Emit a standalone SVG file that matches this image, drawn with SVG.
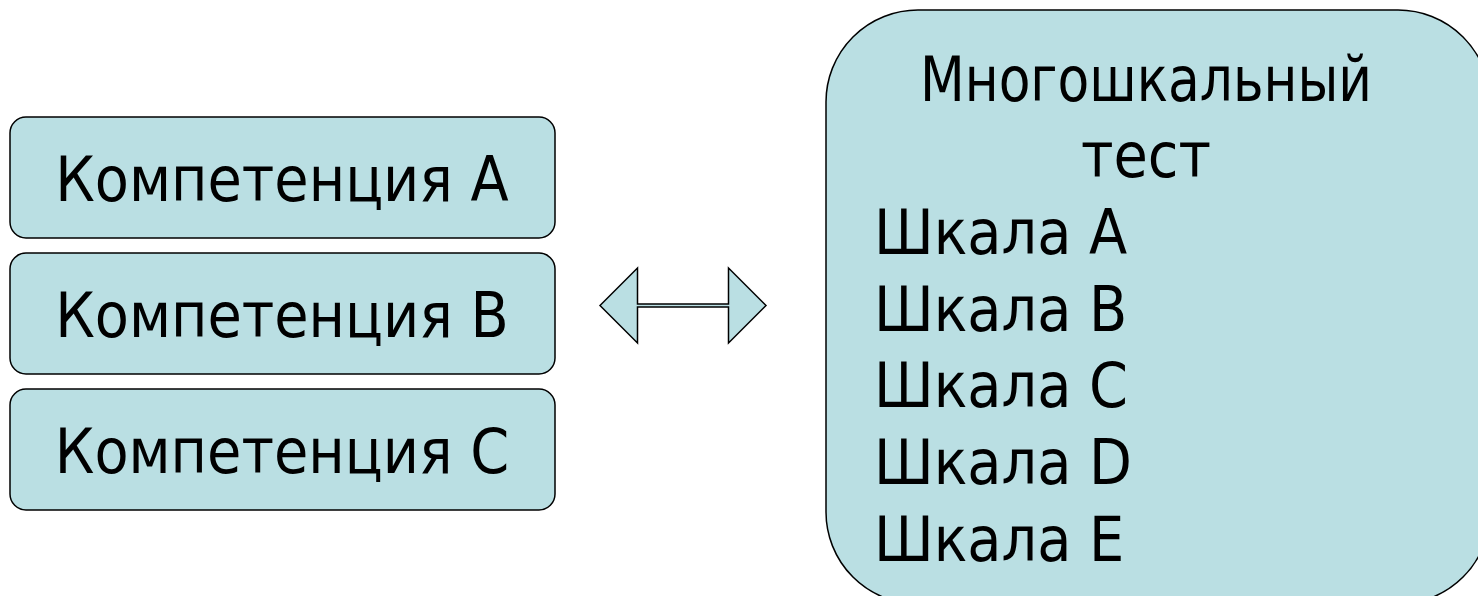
<svg xmlns="http://www.w3.org/2000/svg" width="1478" height="596" viewBox="0 0 1478 596">
  <style>
    .box { fill: #badfe3; stroke: #000; stroke-width: 1.5; }
    .lbl { font-family: "DejaVu Sans Condensed", "DejaVu Sans", sans-serif; font-size: 62px; fill: #000; }
  </style>
  <rect width="1478" height="596" fill="#fff"/>

  <g id="competence-a">
    <rect class="box" x="10" y="117" width="545" height="121" rx="16"/>
    <text class="lbl" x="282" y="201" text-anchor="middle">Компетенция A</text>
  </g>
  <g id="competence-b">
    <rect class="box" x="10" y="253" width="545" height="121" rx="16"/>
    <text class="lbl" x="282" y="337" text-anchor="middle">Компетенция B</text>
  </g>
  <g id="competence-c">
    <rect class="box" x="10" y="389" width="545" height="121" rx="16"/>
    <text class="lbl" x="282" y="473" text-anchor="middle">Компетенция C</text>
  </g>

  <g id="multiscale-test">
    <rect class="box" x="826" y="10" width="664" height="594" rx="92"/>
    <text class="lbl" x="1146" y="101" text-anchor="middle" textLength="452" lengthAdjust="spacingAndGlyphs">Многошкальный</text>
    <text class="lbl" x="1146" y="177" text-anchor="middle">тест</text>
    <text class="lbl" x="874" y="254">Шкала A</text>
    <text class="lbl" x="874" y="331">Шкала B</text>
    <text class="lbl" x="874" y="407">Шкала C</text>
    <text class="lbl" x="874" y="484">Шкала D</text>
    <text class="lbl" x="874" y="561">Шкала E</text>
  </g>

  <g id="connectors">
    <path class="box" d="M600,305.5 L637.5,268 L637.5,304 L728.5,304 L728.5,268 L766,305.5 L728.5,343 L728.5,307 L637.5,307 L637.5,343 Z"/>
  </g>
</svg>
